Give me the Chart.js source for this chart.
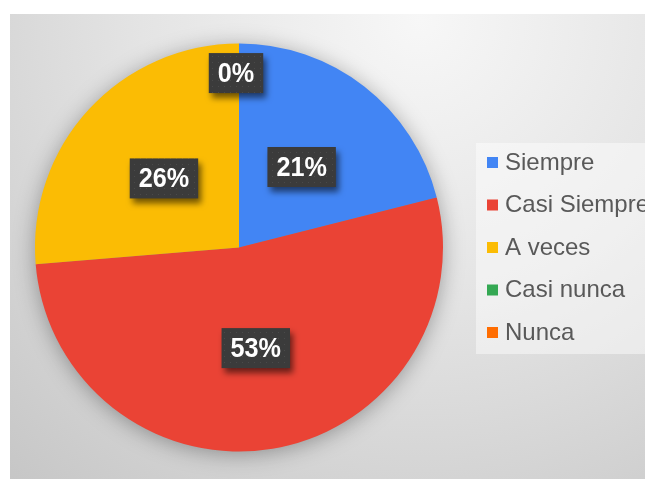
<!DOCTYPE html>
<html>
<head>
<meta charset="utf-8">
<title>Encuesta</title>
<script src="https://cdn.jsdelivr.net/npm/chart.js@4.4.0/dist/chart.umd.min.js"></script>
<style>
  body { margin: 0; background: #ffffff; }
  canvas { display: block; }
</style>
</head>
<body>
<canvas id="myChart" width="645" height="479"></canvas>
<script>
'use strict';

// global variables - chart data

let answerLabels = ['Siempre', 'Casi Siempre', 'A veces', 'Casi nunca', 'Nunca'];
let answerCounts = [4, 10, 5, 0, 0];
let answerColors = ['#4285f4', '#ea4335', '#fbbc04', '#34a853', '#ff6d01'];

let fontName = '"Liberation Sans", Arial, sans-serif';

// Helper Functions

// gray panel behind everything
function drawPanel(ctx) {
  ctx.save();
  ctx.fillStyle = '#ffffff';
  ctx.fillRect(0, 0, 645, 479);
  let grad = ctx.createRadialGradient(420, 20, 0, 420, 20, 620);
  grad.addColorStop(0, '#f7f7f7');
  grad.addColorStop(0.45, '#e4e4e4');
  grad.addColorStop(1, '#c6c6c6');
  ctx.fillStyle = grad;
  ctx.fillRect(10, 14, 635, 465);
  ctx.restore();
}

// little dotted fill for the label boxes
function makeDotPattern(ctx) {
  let tile = document.createElement('canvas');
  tile.width = 6;
  tile.height = 6;
  let t = tile.getContext('2d');
  t.fillStyle = '#3b3b3b';
  t.fillRect(0, 0, 6, 6);
  t.fillStyle = '#4a4a4a';
  t.fillRect(2, 2, 1, 1);
  return ctx.createPattern(tile, 'repeat');
}

let panelPlugin = {
  id: 'panel',
  beforeDraw(chart) {
    drawPanel(chart.ctx);
  },
  beforeDatasetsDraw(chart) {
    // soft shadow under the whole pie
    let arc = chart.getDatasetMeta(0).data[0];
    let ctx = chart.ctx;
    ctx.save();
    ctx.shadowColor = 'rgba(0, 0, 0, 0.35)';
    ctx.shadowBlur = 22;
    ctx.shadowOffsetY = 3;
    ctx.fillStyle = '#888888';
    ctx.beginPath();
    ctx.arc(arc.x, arc.y, arc.outerRadius - 1, 0, Math.PI * 2);
    ctx.fill();
    ctx.restore();
  }
};

let labelPlugin = {
  id: 'percentLabels',
  afterDatasetsDraw(chart) {
    let ctx = chart.ctx;
    let meta = chart.getDatasetMeta(0);
    let total = answerCounts.reduce((a, b) => a + b, 0);
    let pattern = makeDotPattern(ctx);
    let used = [];
    let squeeze = 0.9;

    ctx.save();
    ctx.font = 'bold 28px ' + fontName;
    ctx.textAlign = 'center';
    ctx.textBaseline = 'middle';

    for (let i = 0; i < meta.data.length; i++) {
      let arc = meta.data[i];
      let x, y;
      if (answerCounts[i] > 0) {
        let pos = arc.tooltipPosition();
        x = pos.x;
        y = pos.y;
      } else {
        // zero slices sit near the rim
        let r = arc.outerRadius * 0.855;
        x = arc.x + Math.cos(arc.startAngle) * r - 3;
        y = arc.y + Math.sin(arc.startAngle) * r;
      }
      let key = Math.round(x) + ',' + Math.round(y);
      if (used.includes(key)) {
        continue;
      }
      used.push(key);

      let text = Math.round(answerCounts[i] / total * 100) + '%';
      let w = ctx.measureText(text).width * squeeze + 18;
      let h = 40;

      ctx.save();
      ctx.shadowColor = 'rgba(0, 0, 0, 0.55)';
      ctx.shadowBlur = 6;
      ctx.shadowOffsetX = 3;
      ctx.shadowOffsetY = 5;
      ctx.fillStyle = pattern;
      ctx.fillRect(x - w / 2, y - h / 2, w, h);
      ctx.restore();

      ctx.save();
      ctx.translate(x, y + 1);
      ctx.scale(squeeze, 1);
      ctx.fillStyle = '#ffffff';
      ctx.fillText(text, 0, 0);
      ctx.restore();
    }
    ctx.restore();
  }
};

// legend on the right, drawn by hand
let legendPlugin = {
  id: 'sideLegend',
  afterDraw(chart) {
    let ctx = chart.ctx;
    let colors = chart.data.datasets[0].backgroundColor;
    ctx.save();
    ctx.fillStyle = 'rgba(255, 255, 255, 0.45)';
    ctx.fillRect(476, 143, 169, 211);
    ctx.font = '24px ' + fontName;
    ctx.textBaseline = 'middle';
    ctx.textAlign = 'left';
    for (let i = 0; i < chart.data.labels.length; i++) {
      let rowY = 162 + i * 42.5;
      ctx.fillStyle = colors[i];
      ctx.fillRect(487, rowY - 5, 11, 11);
      ctx.fillStyle = '#595959';
      ctx.fillText(chart.data.labels[i], 505, rowY + 1);
    }
    ctx.restore();
  }
};

// render chart

const ctx = document.getElementById('myChart').getContext('2d');

let myChart = new Chart(ctx, {
  type: 'pie',
  data: {
    labels: answerLabels,
    datasets: [{
      data: answerCounts,
      backgroundColor: answerColors,
      borderWidth: 0
    }]
  },
  options: {
    responsive: false,
    animation: false,
    layout: {
      padding: { left: 35, right: 202, top: 43, bottom: 27 }
    },
    plugins: {
      legend: { display: false },
      tooltip: { enabled: false }
    }
  },
  plugins: [panelPlugin, labelPlugin, legendPlugin]
});
</script>
</body>
</html>
